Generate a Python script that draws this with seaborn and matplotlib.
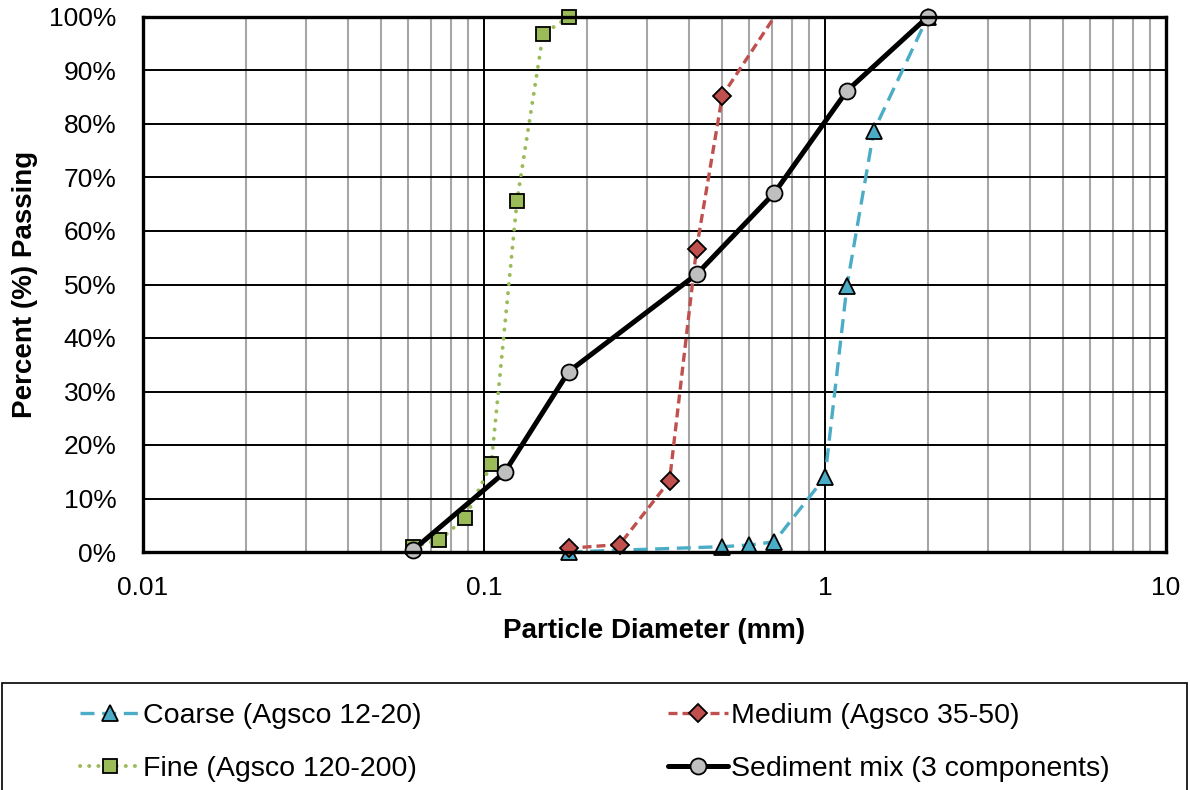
import matplotlib
matplotlib.use("Agg")
import matplotlib.pyplot as plt
import seaborn as sns
from matplotlib.ticker import FixedLocator, FixedFormatter, LogLocator, NullFormatter
from matplotlib.patches import Rectangle

# ---- data ----
coarse_label = "Coarse (Agsco 12-20)"
coarse_d = [0.177, 0.50, 0.60, 0.71, 1.00, 1.16, 1.39, 2.00]
coarse_p = [0.0, 1.0, 1.3, 1.9, 14.0, 49.8, 78.7, 100.0]

medium_label = "Medium (Agsco 35-50)"
medium_d = [0.177, 0.25, 0.35, 0.42, 0.50, 0.71]
medium_p = [0.7, 1.4, 13.3, 56.7, 85.3, 100.0]

fine_label = "Fine (Agsco 120-200)"
fine_d = [0.062, 0.074, 0.088, 0.105, 0.125, 0.149, 0.177]
fine_p = [1.0, 2.2, 6.4, 16.4, 65.7, 96.8, 100.0]

mix_label = "Sediment mix (3 components)"
mix_d = [0.062, 0.115, 0.177, 0.42, 0.71, 1.16, 2.00]
mix_p = [0.4, 14.9, 33.7, 51.9, 67.1, 86.2, 100.0]

x_ticks = [0.01, 0.1, 1, 10]
x_tick_labels = ["0.01", "0.1", "1", "10"]
y_ticks = list(range(0, 101, 10))
y_tick_labels = [f"{v}%" for v in y_ticks]

# ---- style ----
sns.set_style("white")
plt.rcParams["font.family"] = ["Liberation Sans", "DejaVu Sans"]
plt.rcParams["text.color"] = "black"
plt.rcParams["axes.labelcolor"] = "black"
plt.rcParams["xtick.color"] = "black"
plt.rcParams["ytick.color"] = "black"

W, H = 1190, 790
fig = plt.figure(figsize=(W / 100, H / 100), dpi=100)
ax = fig.add_axes([143 / W, 1 - 552 / H, (1166 - 143) / W, (552 - 17) / H])
ax.set_xscale("log")

blue = "#4BACC6"
red = "#C0504D"
green = "#9BBB59"
grey = "#BFBFBF"

sns.lineplot(x=coarse_d, y=coarse_p, ax=ax, color=blue, lw=2.4,
             linestyle=(0, (4.2, 2.3)), marker="^", markersize=12,
             markerfacecolor=blue, markeredgecolor="black", markeredgewidth=1.3,
             label=coarse_label, zorder=4, legend=False)
sns.lineplot(x=medium_d, y=medium_p, ax=ax, color=red, lw=2.4,
             linestyle=(0, (2.7, 1.5)), marker="D", markersize=9,
             markerfacecolor=red, markeredgecolor="black", markeredgewidth=1.3,
             markevery=list(range(len(medium_d) - 1)),
             label=medium_label, zorder=4, legend=False)
sns.lineplot(x=fine_d, y=fine_p, ax=ax, color=green, lw=2.8,
             linestyle=(0, (0.05, 2.3)), dash_capstyle="round", marker="s",
             markersize=9.8, markerfacecolor=green, markeredgecolor="black",
             markeredgewidth=1.3, label=fine_label, zorder=4, legend=False)
sns.lineplot(x=mix_d, y=mix_p, ax=ax, color="black", lw=3.6,
             linestyle="-", marker="o", markersize=11.5,
             markerfacecolor=grey, markeredgecolor="black", markeredgewidth=1.3,
             label=mix_label, zorder=5, legend=False)

for ln in ax.get_lines():
    ln.set_clip_on(False)

ax.set_xlim(0.01, 10)
ax.set_ylim(0, 100)

ax.xaxis.set_major_locator(FixedLocator(x_ticks))
ax.xaxis.set_major_formatter(FixedFormatter(x_tick_labels))
ax.xaxis.set_minor_locator(LogLocator(base=10, subs=range(2, 10), numticks=20))
ax.xaxis.set_minor_formatter(NullFormatter())
ax.yaxis.set_major_locator(FixedLocator(y_ticks))
ax.yaxis.set_major_formatter(FixedFormatter(y_tick_labels))

ax.grid(which="major", axis="both", color="black", lw=1.4, zorder=1)
ax.grid(which="minor", axis="x", color="#A6A6A6", lw=1.5, zorder=0)
ax.set_axisbelow(True)

ax.tick_params(axis="both", which="major", labelsize=19, direction="in",
               length=4, width=1.4, color="black", labelcolor="black")
ax.tick_params(axis="x", which="major", pad=17)
ax.tick_params(axis="y", which="major", pad=19)
ax.tick_params(axis="x", which="minor", length=0)
ax.tick_params(top=False, right=False)

for s in ax.spines.values():
    s.set_visible(True)
    s.set_color("black")
    s.set_linewidth(2.4)
    s.set_zorder(6)

ax.set_xlabel("Particle Diameter (mm)", fontsize=20, fontweight="bold",
              labelpad=13, color="black")
ax.set_ylabel("Percent (%) Passing", fontsize=20, fontweight="bold",
              labelpad=8, color="black")

# ---- legend box ----
fig.patches.append(Rectangle((2 / W, -0.02), 1185 / W, 0.02 + (H - 683) / H,
                             transform=fig.transFigure, fill=False,
                             edgecolor="black", lw=1.2))

lines = ax.get_lines()
common = dict(frameon=False, fontsize=20.5, handlelength=2.1, handletextpad=0.1,
              borderpad=0, borderaxespad=0, labelspacing=0.95, loc="upper left",
              numpoints=1, labelcolor="black")
leg1 = fig.legend(handles=[lines[0], lines[2]], labels=[coarse_label, fine_label],
                  bbox_to_anchor=(80 / W, 1 - 703 / H), **common)
leg2 = fig.legend(handles=[lines[1], lines[3]], labels=[medium_label, mix_label],
                  bbox_to_anchor=(668 / W, 1 - 703 / H), **common)

fig.savefig("out.png", dpi=100)
